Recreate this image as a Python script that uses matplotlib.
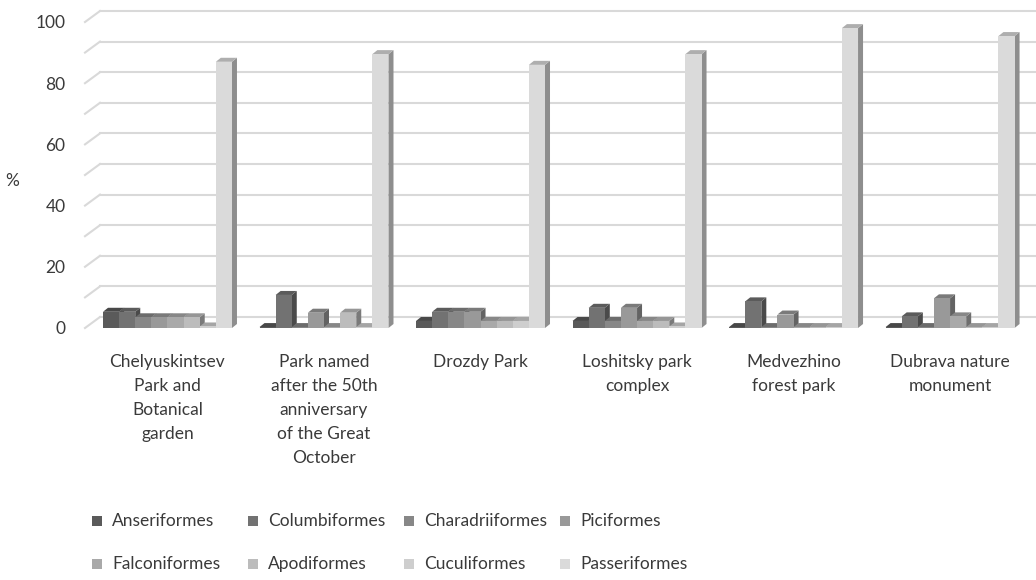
import matplotlib
matplotlib.use("Agg")
import matplotlib.pyplot as plt
from matplotlib.patches import Polygon, Rectangle
from matplotlib.colors import to_rgb

# ---------------- data ----------------
categories = [
    "Chelyuskintsev\nPark and\nBotanical\ngarden",
    "Park named\nafter the 50th\nanniversary\nof the Great\nOctober",
    "Drozdy Park",
    "Loshitsky park\ncomplex",
    "Medvezhino\nforest park",
    "Dubrava nature\nmonument",
]
series = ["Anseriformes", "Columbiformes", "Charadriiformes", "Piciformes",
          "Falconiformes", "Apodiformes", "Cuculiformes", "Passeriformes"]
anseriformes    = [5.3, 0.3, 2.3, 2.3, 0.3, 0.3]
columbiformes   = [5.3, 10.8, 5.3, 6.6, 8.7, 3.8]
charadriiformes = [3.5, 0.3, 5.3, 2.3, 0.3, 0.3]
piciformes      = [3.5, 5.0, 5.3, 6.6, 4.4, 9.7]
falconiformes   = [3.5, 0.3, 2.3, 2.3, 0.3, 3.8]
apodiformes     = [3.5, 5.0, 2.3, 2.3, 0.3, 0.3]
cuculiformes    = [0.5, 0.3, 2.3, 0.5, 0.3, 0.3]
passeriformes   = [87.0, 89.5, 86.0, 89.5, 98.0, 95.4]
values = [anseriformes, columbiformes, charadriiformes, piciformes,
          falconiformes, apodiformes, cuculiformes, passeriformes]
colors = ["#5a5a5a", "#727272", "#878787", "#999999",
          "#a9a9a9", "#bcbcbc", "#cecece", "#dadada"]
yticks = [0, 20, 40, 60, 80, 100]

TXT = "#3a3a3a"
FONT = "Lato"

fig = plt.figure(figsize=(10.36, 5.8), dpi=100)
ax = fig.add_axes([85 / 1036, (580 - 328) / 580, (1036 - 85) / 1036, (328 - 22) / 580])
ax.set_xlim(-0.527, 5.549)
ax.set_ylim(0, 100)
for s in ax.spines.values():
    s.set_visible(False)

# pseudo-3D offsets (data units)
px_x = 1 / 156.5
px_y = 100 / 306.0
wall_dx, wall_dy = 15 * px_x, 11 * px_y
bar_dx, bar_dy = 5 * px_x, 4 * px_y
x0, x1 = -0.527, 5.549

# back wall gridlines + left diagonals
grid_col = "#d9d9d9"
for v in range(0, 101, 10):
    ax.plot([x0 + wall_dx, x1 + 0.2], [v + wall_dy, v + wall_dy], color=grid_col,
            lw=1.5, clip_on=False, zorder=1)
    ax.plot([x0, x0 + wall_dx], [v, v + wall_dy], color=grid_col, lw=1.5,
            clip_on=False, zorder=1)


def shade(c, f):
    r, g, b = to_rgb(c)
    return (r * f, g * f, b * f)


w = 0.103
n = len(series)
for i in range(len(categories)):
    for k in range(n):
        h = values[k][i]
        xl = i - n * w / 2 + k * w
        xr = xl + w
        side = Polygon([(xr, 0), (xr + bar_dx, bar_dy), (xr + bar_dx, h + bar_dy), (xr, h)],
                       closed=True, fc=shade(colors[k], 0.65), ec="none",
                       clip_on=False, zorder=3 + 0.01 * k)
        top = Polygon([(xl, h), (xl + bar_dx, h + bar_dy), (xr + bar_dx, h + bar_dy), (xr, h)],
                      closed=True, fc=shade(colors[k], 0.8), ec="none",
                      clip_on=False, zorder=3 + 0.01 * k)
        ax.add_patch(side)
        ax.add_patch(top)
        ax.bar(xl, h, width=w, align="edge", color=colors[k], edgecolor="none",
               zorder=3 + 0.01 * k + 0.005, clip_on=False)

ax.set_yticks(yticks)
ax.set_yticklabels([str(t) for t in yticks], fontsize=12.5, color=TXT, family=FONT)
ax.tick_params(axis="y", length=0, pad=14)
ax.set_xticks(range(len(categories)))
ax.set_xticklabels(categories, fontsize=12.5, color=TXT, family=FONT,
                   linespacing=1.6, va="top")
ax.tick_params(axis="x", length=0, pad=19)
ax.set_ylabel("%", fontsize=12.5, color=TXT, family=FONT, rotation=0,
              labelpad=0)
ax.yaxis.set_label_coords(-0.077, 0.455)

# legend: 4 columns, 2 rows (row-wise reading)
col_x = [92, 248, 404, 560]
row_y = [521, 564]
for k in range(n):
    r, c = divmod(k, 4)
    xm = col_x[c] / 1036
    ym = 1 - row_y[r] / 580
    fig.patches.append(Rectangle((xm, ym - 5 / 580), 10 / 1036, 10 / 580,
                                 transform=fig.transFigure, fc=colors[k], ec="none"))
    fig.text(xm + 20 / 1036, ym, series[k], fontsize=12.5, color=TXT, family=FONT,
             va="center", ha="left")

fig.savefig("out.png", dpi=100, facecolor="white")
